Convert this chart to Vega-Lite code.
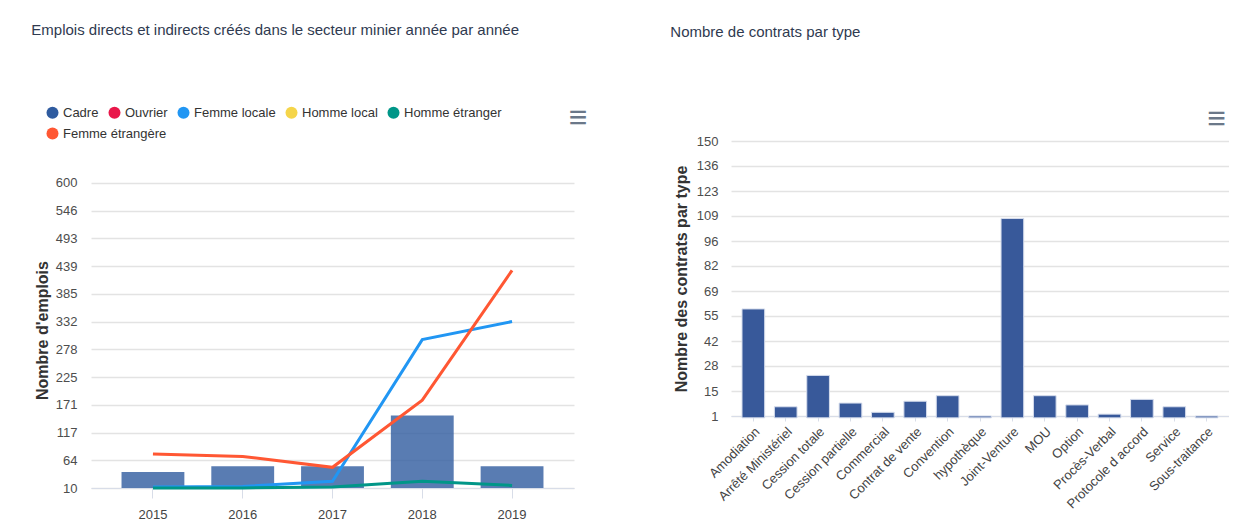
{
  "$schema": "https://vega.github.io/schema/vega-lite/v6.json",
  "padding": {"left": 31, "top": 23, "right": 0, "bottom": 0},
  "background": "white",
  "config": {
    "font": "Liberation Sans",
    "view": {"stroke": null},
    "axis": {
      "labelFont": "Liberation Sans",
      "labelFontSize": 13,
      "labelColor": "#4d4d4d",
      "titleFont": "Liberation Sans",
      "titleFontSize": 16,
      "titleFontWeight": "bold",
      "titleColor": "#333333",
      "gridColor": "#e3e3e3",
      "gridWidth": 1.3
    },
    "legend": {
      "direction": "horizontal",
      "title": null,
      "symbolType": "circle",
      "symbolSize": 144,
      "symbolStrokeWidth": 0,
      "symbolOpacity": 1,
      "labelFontSize": 13,
      "labelColor": "#333333",
      "labelFont": "Liberation Sans",
      "labelOffset": 4,
      "columnPadding": 9
    },
    "title": {
      "font": "Liberation Sans",
      "fontSize": 15,
      "fontWeight": "normal",
      "color": "#2f3a50",
      "anchor": "start",
      "frame": "bounds"
    }
  },
  "resolve": {
    "scale": {"color": "independent", "fill": "independent"},
    "legend": {"color": "independent", "fill": "independent"}
  },
  "columns": 2,
  "align": "none",
  "spacing": 82,
  "concat": [
    {
      "width": 483,
      "height": 347,
      "title": {"text": "Emplois directs et indirects créés dans le secteur minier année par année", "offset": 64, "dx": -3},
      "encoding": {
        "x": {
          "field": "year",
          "type": "ordinal",
          "scale": {"paddingInner": 0.3, "paddingOuter": 0.34},
          "axis": {
            "title": null,
            "labelAngle": 0,
            "labelPadding": 10,
            "labelColor": "#444444",
            "domainColor": "#d8dde8",
            "tickColor": "#d8dde8",
            "tickSize": 10,
            "grid": false
          }
        },
        "y": {
          "type": "quantitative",
          "scale": {"domain": [10, 681.2], "zero": false, "nice": false},
          "axis": {
            "title": "Nombre d'emplois",
            "titleY": 189,
            "values": [10, 63.636, 117.273, 170.909, 224.545, 278.182, 331.818, 385.455, 439.091, 492.727, 546.364, 600],
            "format": ".0f",
            "domain": false,
            "ticks": false,
            "labelPadding": 14,
            "titlePadding": 5
          }
        }
      },
      "layer": [
        {
          "data": {
            "values": [
              {"year": "2015", "serie": "Cadre", "value": 41},
              {"year": "2016", "serie": "Cadre", "value": 52},
              {"year": "2017", "serie": "Cadre", "value": 52},
              {"year": "2018", "serie": "Cadre", "value": 150},
              {"year": "2019", "serie": "Cadre", "value": 52},
              {"year": "2015", "serie": "Femme locale", "value": 12},
              {"year": "2016", "serie": "Femme locale", "value": 13},
              {"year": "2017", "serie": "Femme locale", "value": 23},
              {"year": "2018", "serie": "Femme locale", "value": 297},
              {"year": "2019", "serie": "Femme locale", "value": 332},
              {"year": "2015", "serie": "Homme étranger", "value": 10},
              {"year": "2016", "serie": "Homme étranger", "value": 10},
              {"year": "2017", "serie": "Homme étranger", "value": 12},
              {"year": "2018", "serie": "Homme étranger", "value": 23},
              {"year": "2019", "serie": "Homme étranger", "value": 15},
              {"year": "2015", "serie": "Femme étrangère", "value": 76},
              {"year": "2016", "serie": "Femme étrangère", "value": 71},
              {"year": "2017", "serie": "Femme étrangère", "value": 50},
              {"year": "2018", "serie": "Femme étrangère", "value": 180},
              {"year": "2019", "serie": "Femme étrangère", "value": 431}
            ]
          },
          "encoding": {
            "y": {"field": "value", "type": "quantitative"},
            "color": {
              "field": "serie",
              "type": "nominal",
              "scale": {
                "domain": ["Cadre", "Ouvrier", "Femme locale", "Homme local", "Homme étranger", "Femme étrangère"],
                "range": ["#2f5b9f", "#e9174a", "#2196f3", "#f5d54a", "#009688", "#ff5733"]
              },
              "legend": {
                "orient": "none",
                "legendX": -45,
                "legendY": -35,
                "values": ["Cadre", "Ouvrier", "Femme locale", "Homme local", "Homme étranger"]
              }
            }
          },
          "layer": [
            {
              "transform": [{"filter": "datum.serie === 'Cadre'"}],
              "mark": {"type": "bar", "opacity": 0.8},
              "encoding": {"y2": {"datum": 10}}
            },
            {
              "transform": [{"filter": "datum.serie !== 'Cadre'"}],
              "mark": {"type": "line", "strokeWidth": 3}
            },
            {
              "transform": [{"filter": "datum.serie === 'Femme étrangère' && datum.value < 0"}],
              "mark": {"type": "point", "filled": true},
              "encoding": {
                "color": {"value": "#ff5733"},
                "fill": {
                  "field": "serie",
                  "type": "nominal",
                  "scale": {"domain": ["Femme étrangère"], "range": ["#ff5733"]},
                  "legend": {"orient": "none", "legendX": -45, "legendY": -14}
                }
              }
            }
          ]
        },
        {
          "data": {"values": [{"icon": "≡"}]},
          "mark": {"type": "text", "fontSize": 32, "color": "#6b7889", "dx": 66, "baseline": "middle", "align": "center"},
          "encoding": {
            "x": {"datum": "2019"},
            "y": {"datum": 725},
            "text": {"field": "icon"}
          }
        }
      ]
    },
    {
      "width": 498,
      "height": 275,
      "title": {"text": "Nombre de contrats par type", "offset": 63, "dx": -3},
      "encoding": {
        "x": {
          "field": "type",
          "type": "nominal",
          "sort": null,
          "scale": {"paddingInner": 0.3, "paddingOuter": 0.34},
          "axis": {
            "title": null,
            "labelAngle": -45,
            "labelColor": "#444444",
            "labelPadding": 4,
            "domainColor": "#d8dde8",
            "tickColor": "#d8dde8",
            "tickSize": 5,
            "grid": false
          }
        },
        "y": {
          "type": "quantitative",
          "scale": {"domain": [1, 150], "zero": false, "nice": false},
          "axis": {
            "title": "Nombre des contrats par type",
            "values": [1, 14.545, 28.091, 41.636, 55.182, 68.727, 82.273, 95.818, 109.364, 122.909, 136.455, 150],
            "format": ".0f",
            "domain": false,
            "ticks": false,
            "labelPadding": 13,
            "titlePadding": 7
          }
        }
      },
      "layer": [
        {
          "data": {
            "values": [
              {"type": "Amodiation", "n": 59},
              {"type": "Arrêté Ministériel", "n": 6},
              {"type": "Cession totale", "n": 23},
              {"type": "Cession partielle", "n": 8},
              {"type": "Commercial", "n": 3},
              {"type": "Contrat de vente", "n": 9},
              {"type": "Convention", "n": 12},
              {"type": "hypothèque", "n": 1},
              {"type": "Joint-Venture", "n": 108},
              {"type": "MOU", "n": 12},
              {"type": "Option", "n": 7},
              {"type": "Procès-Verbal", "n": 2},
              {"type": "Protocole d accord", "n": 10},
              {"type": "Service", "n": 6},
              {"type": "Sous-traitance", "n": 1}
            ]
          },
          "mark": {"type": "bar", "color": "#38599a", "stroke": "#d5dcec", "strokeWidth": 1},
          "encoding": {
            "y": {"field": "n", "type": "quantitative"},
            "y2": {"datum": 0}
          }
        },
        {
          "data": {"values": [{"icon": "≡"}]},
          "mark": {"type": "text", "fontSize": 32, "color": "#6b7889", "dx": 10, "baseline": "middle", "align": "center"},
          "encoding": {
            "x": {"datum": "Sous-traitance"},
            "y": {"datum": 162},
            "text": {"field": "icon"}
          }
        }
      ]
    }
  ]
}
